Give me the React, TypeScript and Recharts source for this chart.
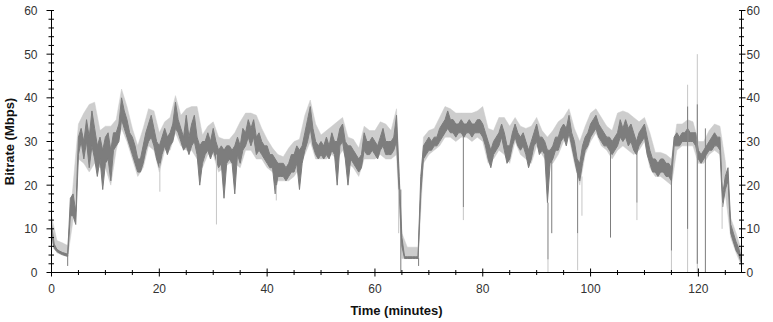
import { ComposedChart, Area, Line, XAxis, YAxis, Label } from "recharts";

// sampling step of the average trace, in minutes
const STEP = 0.5;

// spread of the average bitrate trace (Mbps), one pair every half minute, 0..128 min
const darkLow = [
  9, 5.5, 4.8, 4.4, 4.1, 3.9, 3.7, 13, 13, 11,
  27, 30, 26, 30, 24, 29, 26, 22, 26, 19,
  25, 26, 21, 28, 29, 30, 35, 33, 31, 29,
  27, 25, 23, 23, 25, 28, 30, 31, 29, 26,
  24, 27, 29, 27, 29, 30, 33, 32, 30, 28,
  29, 27, 29, 30, 27, 20, 25, 27, 28, 26,
  28, 26, 24, 25, 17, 25, 26, 25, 18, 27,
  25, 28, 29, 31, 29, 31, 27, 28, 27, 26,
  25, 24, 24, 18, 22, 22, 22, 21, 22, 23,
  23, 25, 19, 25, 28, 30, 33, 29, 27, 26,
  27, 26, 27, 26, 28, 27, 20, 29, 30, 26,
  20, 26, 25, 24, 23, 24, 28, 27, 27, 28,
  27, 26, 28, 29, 27, 27, 27, 28, 30, 18,
  6, 3.2, 3.2, 3.2, 3.2, 3.2, 3.2, 18, 26, 27,
  28, 28, 29, 29, 30, 31, 32, 33, 32, 32,
  31, 32, 32, 31, 32, 32, 31, 32, 32, 32,
  31, 29, 26, 24, 27, 28, 29, 31, 28, 25,
  26, 29, 31, 29, 28, 29, 27, 24, 26, 29,
  30, 27, 28, 27, 16, 25, 26, 28, 28, 30,
  31, 29, 32, 29, 26, 23, 21, 25, 28, 29,
  31, 32, 33, 31, 30, 29, 29, 28, 27, 28,
  29, 31, 30, 31, 29, 30, 28, 27, 29, 30,
  31, 27, 25, 23, 23, 22, 23, 23, 22, 22,
  21, 29, 29, 29, 30, 30, 30, 30, 30, 29,
  26, 25, 26, 27, 28, 28, 29, 29, 28, 15,
  19, 21, 9, 7, 5, 4, 2,
];
const darkHigh = [
  11, 6.5, 5.3, 4.9, 4.6, 4.4, 4.2, 17, 18, 14,
  31, 33, 30, 35, 31, 37, 33, 29, 31, 28,
  31, 32, 28, 32, 32, 34, 40, 37, 35, 32,
  31, 29, 26, 26, 29, 32, 34, 36, 33, 30,
  29, 31, 33, 31, 32, 34, 39, 35, 33, 31,
  36, 31, 34, 36, 31, 29, 30, 30, 32, 30,
  33, 30, 28, 29, 28, 29, 29, 28, 29, 31,
  29, 33, 32, 35, 33, 35, 31, 32, 30, 29,
  29, 27, 27, 26, 25, 25, 25, 24, 25, 27,
  27, 29, 28, 29, 32, 35, 38, 33, 30, 29,
  30, 29, 31, 29, 32, 30, 30, 33, 34, 30,
  29, 29, 28, 27, 26, 27, 32, 30, 30, 31,
  30, 29, 31, 33, 30, 30, 30, 31, 36, 22,
  8, 3.6, 3.6, 3.6, 3.6, 3.6, 3.6, 22, 29, 30,
  31, 30, 31, 31, 33, 34, 35, 37, 35, 35,
  34, 34, 35, 34, 34, 35, 34, 34, 35, 35,
  34, 32, 30, 28, 30, 31, 32, 34, 32, 29,
  29, 32, 34, 32, 31, 32, 30, 28, 30, 32,
  34, 31, 31, 30, 28, 28, 29, 31, 31, 33,
  34, 33, 36, 32, 30, 26, 25, 29, 31, 32,
  34, 35, 36, 34, 33, 32, 31, 31, 30, 31,
  32, 35, 33, 35, 33, 34, 32, 30, 32, 33,
  34, 31, 28, 26, 26, 25, 26, 26, 25, 25,
  24, 31, 32, 31, 32, 32, 33, 32, 32, 32,
  28, 27, 28, 29, 30, 31, 32, 31, 31, 18,
  22, 24, 11, 9, 7, 5.5, 3,
];

// min / max envelope, one value per minute from 0 to 128
const bandLow = [
  7, 4.5, 4, 3.6, 12, 26, 25, 23, 25, 24,
  24, 20, 28, 33, 30, 26, 22, 24, 29, 28,
  23, 28, 28, 32, 29, 28, 28, 26, 24, 27,
  27, 23, 24, 25, 25, 24, 28, 28, 26, 26,
  24, 23, 21, 21, 21, 22, 24, 27, 30, 26,
  26, 26, 27, 26, 28, 25, 24, 22, 26, 26,
  26, 27, 26, 26, 27, 3.2, 3.2, 3.2, 3.2, 25,
  27, 28, 29, 31, 31, 30, 31, 31, 30, 31,
  30, 25, 26, 28, 27, 25, 30, 27, 26, 25,
  29, 27, 25, 25, 27, 30, 31, 25, 20, 27,
  30, 32, 29, 28, 26, 28, 29, 28, 27, 28,
  30, 24, 22, 22, 21, 20, 28, 29, 29, 29,
  25, 25, 27, 28, 27, 18, 8, 4.5, 1.5,
];
const bandHigh = [
  13, 7.3, 6.8, 6.2, 20, 34, 36.5, 38.5, 39, 32.5,
  33.5, 33.5, 35, 42, 38, 33, 29, 33, 37.5, 37,
  32, 34.5, 35.5, 40.5, 36, 37.5, 38, 38, 31.5, 33.5,
  34.5, 31, 30.5, 30.5, 32, 34.5, 36.5, 36.5, 36, 33,
  30.5, 28.5, 27, 26.5, 28.5, 30, 30.5, 36, 39.5, 34,
  31.5, 32.5, 33.5, 34.5, 35.5, 31, 30.5, 28.5, 33.5, 32.5,
  32.5, 34.5, 34, 32.5, 37.5, 9, 5.8, 5.8, 5.8, 31,
  32.5, 33, 35.5, 38, 37.5, 36.5, 36.5, 36.5, 36.5, 37,
  38, 33, 32.5, 35.5, 35.5, 33.5, 35.5, 33.5, 33, 33.5,
  35.5, 32.5, 31, 32.5, 34.5, 35.5, 37.5, 33, 30, 33.5,
  36.5, 37.5, 35.5, 33.5, 32.5, 36.5, 37, 36.5, 35.5, 34.5,
  35.5, 32, 27.5, 27.5, 27, 26, 34, 34, 35, 34.5,
  30, 30, 32.5, 34, 33.5, 25.5, 12.5, 9, 5,
];

// short dropouts / bursts: [minute, top, bottom]
const darkSpikes = [
  [3.0, 4, 1.5], [64.8, 19, 0], [68.1, 3.4, 1.5], [76.4, 33, 15],
  [92.1, 16, 3], [92.8, 27, 9], [97.6, 24, 9], [103.7, 29, 8],
  [108.6, 28, 16], [115.0, 22, 5], [118.0, 38, 10], [119.8, 38.5, 2],
  [121.3, 33, 0],
];
const lightSpikes = [
  [20.1, 25, 18.5], [30.6, 27, 11], [41.7, 20, 16.5], [64.4, 19, 9],
  [76.4, 15, 12], [92.1, 3, 0], [97.6, 9, 0.5], [98.4, 22, 13],
  [108.6, 16, 12], [115.0, 5, 0], [118.0, 43, 0], [119.8, 50, 0],
  [124.4, 16, 10],
];

const timeTicks = [0, 5, 10, 15, 20, 25, 30, 35, 40, 45, 50, 55, 60, 65, 70, 75, 80, 85, 90, 95, 100, 105, 110, 115, 120, 125];
const rateTicks = [0, 2, 4, 6, 8, 10, 12, 14, 16, 18, 20, 22, 24, 26, 28, 30, 32, 34, 36, 38, 40, 42, 44, 46, 48, 50, 52, 54, 56, 58, 60];

const traceData = darkLow.map((lo, i) => ({ t: i * STEP, range: [lo, darkHigh[i]] }));
const bandData = bandLow.map((lo, i) => ({ t: i, range: [lo, bandHigh[i]] }));
const toSegments = (list: number[][]) =>
  list.flatMap(([t, top, bottom]) => [
    { t, v: top },
    { t, v: bottom },
    { t, v: null },
  ]);

const font = "'Liberation Sans', Arial, sans-serif";
const labelColor = "#333";
const dark = "#7d7d7d";
const light = "#cdcdcd";

function BottomTick({ x, y, payload }: any) {
  const major = payload.value % 20 === 0;
  const d = major ? 4 : 2.5;
  return (
    <g>
      <line x1={x} x2={x} y1={y - d} y2={y + d} stroke="#000" />
      {major && (
        <text x={x} y={y + 20.5} textAnchor="middle" fontSize={12} fontFamily={font} fill={labelColor}>
          {payload.value}
        </text>
      )}
    </g>
  );
}

function TopTick({ x, y }: any) {
  return <line x1={x} x2={x} y1={y} y2={y + 4} stroke="#000" />;
}

function LeftTick({ x, y, payload }: any) {
  const major = payload.value % 10 === 0;
  return (
    <g>
      <line x1={x - (major ? 5 : 3)} x2={x + 2.5} y1={y} y2={y} stroke="#000" />
      {major && (
        <text x={x - 14} y={y + 4.5} textAnchor="end" fontSize={12} fontFamily={font} fill={labelColor}>
          {payload.value}
        </text>
      )}
    </g>
  );
}

function RightTick({ x, y, payload }: any) {
  const major = payload.value % 10 === 0;
  return (
    <g>
      <line x1={x - 2.5} x2={x + (major ? 4 : 2.5)} y1={y} y2={y} stroke="#000" />
      {major && (
        <text x={x + 5} y={y + 4.5} textAnchor="start" fontSize={12} fontFamily={font} fill={labelColor}>
          {payload.value}
        </text>
      )}
    </g>
  );
}

export default function App() {
  return (
    <div style={{ position: "absolute", left: 0, top: 0, width: 773, height: 322, background: "#fff" }}>
      <ComposedChart width={773} height={322} margin={{ top: 10.5, right: 0.5, bottom: 0.5, left: 0 }}>
        <XAxis
          xAxisId="b"
          type="number"
          dataKey="t"
          domain={[0, 128]}
          ticks={timeTicks}
          interval={0}
          height={49}
          tickSize={0}
          tickMargin={0}
          tickLine={false}
          axisLine={{ stroke: "#000" }}
          tick={(p: any) => <BottomTick {...p} />}
          allowDataOverflow
        >
          <Label
            content={({ viewBox }: any) => (
              <text
                x={viewBox.x + viewBox.width / 2}
                y={viewBox.y + viewBox.height - 7}
                textAnchor="middle"
                fontSize={13}
                fontWeight="bold"
                fontFamily={font}
                fill="#111"
              >
                Time (minutes)
              </text>
            )}
          />
        </XAxis>
        <XAxis
          xAxisId="t"
          orientation="top"
          type="number"
          dataKey="t"
          domain={[0, 128]}
          ticks={timeTicks}
          interval={0}
          height={0}
          tickSize={0}
          tickMargin={0}
          tickLine={false}
          axisLine={{ stroke: "#000" }}
          tick={(p: any) => <TopTick {...p} />}
          allowDataOverflow
        />
        <YAxis
          yAxisId="l"
          type="number"
          domain={[0, 60]}
          ticks={rateTicks}
          interval={0}
          width={51.5}
          tickSize={0}
          tickMargin={0}
          tickLine={false}
          axisLine={{ stroke: "#000" }}
          tick={(p: any) => <LeftTick {...p} />}
          allowDataOverflow
        >
          <Label
            content={({ viewBox }: any) => {
              const cx = viewBox.x + 9;
              const cy = viewBox.y + viewBox.height / 2;
              return (
                <text
                  x={cx}
                  y={cy}
                  transform={`rotate(-90 ${cx} ${cy})`}
                  textAnchor="middle"
                  dominantBaseline="central"
                  fontSize={13}
                  fontWeight="bold"
                  fontFamily={font}
                  fill="#111"
                >
                  Bitrate (Mbps)
                </text>
              );
            }}
          />
        </YAxis>
        <YAxis
          yAxisId="r"
          orientation="right"
          type="number"
          domain={[0, 60]}
          ticks={rateTicks}
          interval={0}
          width={31}
          tickSize={0}
          tickMargin={0}
          tickLine={false}
          axisLine={{ stroke: "#000" }}
          tick={(p: any) => <RightTick {...p} />}
          allowDataOverflow
        />

        <Area
          xAxisId="b"
          yAxisId="l"
          data={bandData}
          dataKey="range"
          type="linear"
          stroke={light}
          strokeWidth={0.5}
          fill={light}
          fillOpacity={1}
          dot={false}
          activeDot={false}
          isAnimationActive={false}
        />
        <Line
          xAxisId="t"
          yAxisId="r"
          data={toSegments(lightSpikes)}
          dataKey="v"
          type="linear"
          stroke="#c6c6c6"
          strokeWidth={1}
          dot={false}
          activeDot={false}
          isAnimationActive={false}
        />
        <Area
          xAxisId="b"
          yAxisId="l"
          data={traceData}
          dataKey="range"
          type="linear"
          stroke={dark}
          strokeWidth={1}
          fill={dark}
          fillOpacity={1}
          dot={false}
          activeDot={false}
          isAnimationActive={false}
        />
        <Line
          xAxisId="t"
          yAxisId="r"
          data={toSegments(darkSpikes)}
          dataKey="v"
          type="linear"
          stroke={dark}
          strokeWidth={1}
          dot={false}
          activeDot={false}
          isAnimationActive={false}
        />
      </ComposedChart>
    </div>
  );
}
